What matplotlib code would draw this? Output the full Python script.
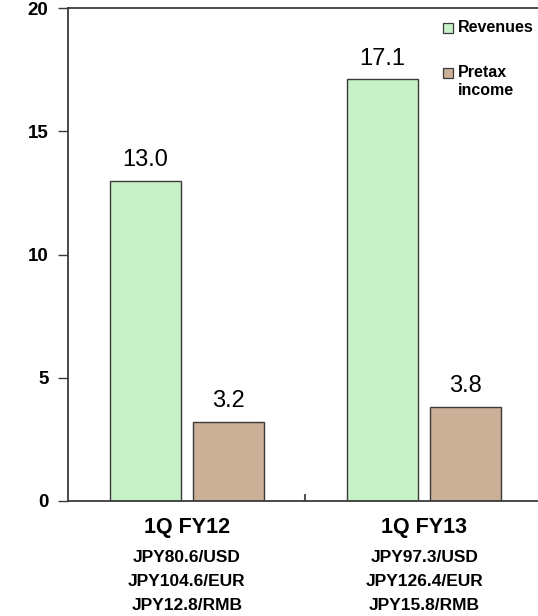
import numpy as np
import matplotlib.pyplot as plt
import matplotlib.transforms as mtransforms
from matplotlib.ticker import FixedLocator

plt.rcParams['font.family'] = ['Liberation Sans', 'DejaVu Sans']

periods = ["1Q FY12", "1Q FY13"]
fx_rates = [["JPY80.6/USD", "JPY104.6/EUR", "JPY12.8/RMB"],
            ["JPY97.3/USD", "JPY126.4/EUR", "JPY15.8/RMB"]]
revenues = [13.0, 17.1]
pretax = [3.2, 3.8]

GREEN = "#c7f1c7"
BROWN = "#cbaf97"
EDGE = "#3a3a3a"

fig = plt.figure(figsize=(5.38, 6.16), dpi=100)
ax = fig.add_axes([0.1264, 0.1867, 0.8736, 0.8003])

x = np.arange(len(periods))
w = 0.30
ax.bar(x - 0.175, revenues, w, color=GREEN, edgecolor=EDGE, linewidth=1.0)
ax.bar(x + 0.175, pretax, w, color=BROWN, edgecolor=EDGE, linewidth=1.0)

for xi, v in zip(x - 0.175, revenues):
    ax.text(xi, v + 0.4, "%.1f" % v, ha="center", va="bottom", fontsize=17)
for xi, v in zip(x + 0.175, pretax):
    ax.text(xi, v + 0.4, "%.1f" % v, ha="center", va="bottom", fontsize=17)

ax.set_xlim(-0.5, 1.479)
ax.set_ylim(0, 20)
ax.set_yticks([0, 5, 10, 15, 20])
ax.tick_params(axis="y", direction="out", length=7, width=1.0, color=EDGE,
               labelsize=13.5, pad=7)
for lab in ax.get_yticklabels():
    lab.set_fontweight("bold")

# only a small separator tick between the two periods
ax.set_xticks([])
ax.xaxis.set_minor_locator(FixedLocator([0.5]))
ax.tick_params(axis="x", which="minor", direction="in", length=5, width=1.5, color="#555555")

ax.spines["right"].set_visible(False)
for s in ["left", "bottom", "top"]:
    ax.spines[s].set_color(EDGE)
    ax.spines[s].set_linewidth(1.3)

# period labels and exchange rates under the axis
trans = mtransforms.blended_transform_factory(ax.transData, fig.transFigure)
for xi, name, rates in zip(x, periods, fx_rates):
    ax.text(xi, 1 - 528 / 616, name, transform=trans, ha="center", va="center",
            fontsize=15.5, fontweight="bold")
    for k, r in enumerate(rates):
        ax.text(xi, 1 - (558 + 23.5 * k) / 616, r, transform=trans, ha="center",
                va="center", fontsize=12.5, fontweight="bold")

# legend
ax.plot([0.809], [0.960], marker="s", ms=6.5, mfc=GREEN, mec=EDGE, mew=0.9,
        transform=ax.transAxes, clip_on=False)
ax.text(0.829, 0.960, "Revenues", transform=ax.transAxes, ha="left", va="center",
        fontsize=11.5, fontweight="bold")
ax.plot([0.809], [0.869], marker="s", ms=6.5, mfc=BROWN, mec=EDGE, mew=0.9,
        transform=ax.transAxes, clip_on=False)
ax.text(0.829, 0.869, "Pretax", transform=ax.transAxes, ha="left", va="center",
        fontsize=11.5, fontweight="bold")
ax.text(0.829, 0.833, "income", transform=ax.transAxes, ha="left", va="center",
        fontsize=11.5, fontweight="bold")

fig.savefig("out.png", dpi=100)
